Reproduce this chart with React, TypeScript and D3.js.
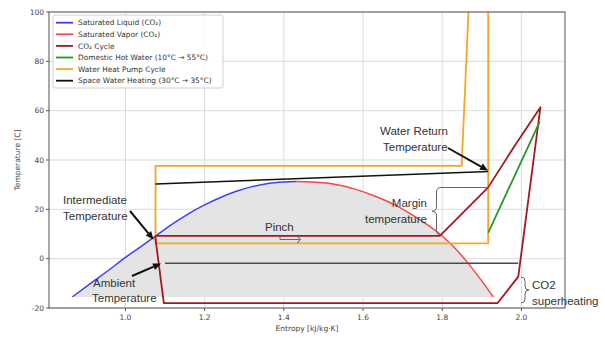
import React from 'react';
import * as d3 from 'd3';

// Saturation dome (CO2)
const satLiquidS = [0.866, 0.912, 0.955, 1.0, 1.04, 1.075, 1.12, 1.16, 1.2, 1.24, 1.28, 1.32, 1.36, 1.4, 1.432];
const satLiquidT = [-15.5, -10, -5, 0.5, 5, 9, 14.2, 18.3, 21.8, 24.8, 27.3, 29.2, 30.5, 31.1, 31.3];
const satVaporS = [1.432, 1.48, 1.525, 1.58, 1.634, 1.68, 1.72, 1.76, 1.8, 1.83, 1.862, 1.895, 1.929];
const satVaporT = [31.3, 31.0, 30.3, 28.2, 25.1, 21.8, 18.2, 14.0, 9.2, 4.6, -1.2, -8.0, -15.5];

// CO2 cycle
const co2S = [1.075, 1.097, 1.94, 1.992, 2.048, 1.981, 1.916, 1.855, 1.794, 1.075];
const co2T = [9.2, -18, -18, -7.3, 61.4, 45.3, 28.9, 19.1, 9.2, 9.2];

// Domestic hot water 10 -> 55
const dhwS = [1.916, 2.046];
const dhwT = [10.5, 55.5];

// Water heat pump cycle
const whpS = [1.869, 1.849, 1.076, 1.076, 1.916, 1.916];
const whpT = [110, 37.6, 37.6, 6.2, 6.2, 110];

// Space water heating 30 -> 35
const swhS = [1.076, 1.916];
const swhT = [30.3, 35.3];

// Ambient temperature line
const ambS = [1.1, 1.992];
const ambT = [-1.9, -1.9];

const xTicks = [1.0, 1.2, 1.4, 1.6, 1.8, 2.0];
const yTicks = [-20, 0, 20, 40, 60, 80, 100];

const legendItems = [
  { label: 'Saturated Liquid (CO₂)', color: '#3f3ff2' },
  { label: 'Saturated Vapor (CO₂)', color: '#f24848' },
  { label: 'CO₂ Cycle', color: '#a01a22' },
  { label: 'Domestic Hot Water (10°C → 55°C)', color: '#2a962a' },
  { label: 'Water Heat Pump Cycle', color: '#f7a623' },
  { label: 'Space Water Heating (30°C → 35°C)', color: '#111' },
];

const W = 605;
const H = 343;
const plot = { left: 49, right: 565, top: 12, bottom: 308 };

const zip = (s: number[], t: number[]) => s.map((v, i) => [v, t[i]] as [number, number]);

// curly brace, dir = -1 => "{" (tip to the left), 1 => "}"
function brace(x0: number, y1: number, y2: number, w: number, dir: number) {
  const mid = (y1 + y2) / 2;
  const r = Math.min(w / 2, (y2 - y1) / 4);
  const xm = x0 + (dir * w) / 2;
  const xt = x0 + dir * w;
  return `M${x0},${y1} Q${xm},${y1} ${xm},${y1 + r} L${xm},${mid - r} Q${xm},${mid} ${xt},${mid} Q${xm},${mid} ${xm},${mid + r} L${xm},${y2 - r} Q${xm},${y2} ${x0},${y2}`;
}

function Arrow({ x1, y1, x2, y2 }: { x1: number; y1: number; x2: number; y2: number }) {
  const a = Math.atan2(y2 - y1, x2 - x1);
  const len = 8;
  const hw = 3.5;
  const bx = x2 - len * Math.cos(a);
  const by = y2 - len * Math.sin(a);
  const px = -Math.sin(a) * hw;
  const py = Math.cos(a) * hw;
  return (
    <g>
      <line x1={x1} y1={y1} x2={bx} y2={by} stroke="#111" strokeWidth={2} />
      <polygon points={`${x2},${y2} ${bx + px},${by + py} ${bx - px},${by - py}`} fill="#111" />
    </g>
  );
}

export default function App() {
  const x = d3.scaleLinear().domain([0.807, 2.11]).range([plot.left, plot.right]);
  const y = d3.scaleLinear().domain([-20, 100]).range([plot.bottom, plot.top]);
  const line = d3.line<[number, number]>().x(d => x(d[0])).y(d => y(d[1]));
  const smooth = d3.line<[number, number]>().x(d => x(d[0])).y(d => y(d[1])).curve(d3.curveMonotoneX);

  const liq = zip(satLiquidS, satLiquidT);
  const vap = zip(satVaporS, satVaporT);
  const dome = [...liq, ...vap.slice(1)];

  const annFont = "'Liberation Sans', Arial, sans-serif";
  const tickFont = "'DejaVu Sans', sans-serif";

  return (
    <div style={{ position: 'fixed', left: 0, top: 0 }}>
      <svg width={W} height={H} style={{ display: 'block', background: '#fff' }}>
        <defs>
          <clipPath id="plotClip">
            <rect x={plot.left} y={plot.top} width={plot.right - plot.left} height={plot.bottom - plot.top} />
          </clipPath>
        </defs>

        {/* grid */}
        {xTicks.map(t => (
          <line key={'gx' + t} x1={x(t)} x2={x(t)} y1={plot.top} y2={plot.bottom} stroke="#dcdcdc" strokeWidth={1} />
        ))}
        {yTicks.map(t => (
          <line key={'gy' + t} x1={plot.left} x2={plot.right} y1={y(t)} y2={y(t)} stroke="#dcdcdc" strokeWidth={1} />
        ))}

        <g clipPath="url(#plotClip)">
          {/* dome fill */}
          <path d={smooth(dome) + 'Z'} fill="#e4e4e4" />

          <path d={smooth(liq) || ''} fill="none" stroke="#3f3ff2" strokeWidth={1.5} />
          <path d={smooth(vap) || ''} fill="none" stroke="#f24848" strokeWidth={1.5} />

          <path d={line(zip(ambS, ambT)) || ''} fill="none" stroke="#4a4a4a" strokeWidth={1.5} />
          <path d={line(zip(whpS, whpT)) || ''} fill="none" stroke="#f7a623" strokeWidth={1.8} />
          <path d={line(zip(swhS, swhT)) || ''} fill="none" stroke="#111" strokeWidth={1.5} />
          <path d={line(zip(co2S, co2T)) || ''} fill="none" stroke="#a01a22" strokeWidth={1.8} strokeLinejoin="round" />
          <path d={line(zip(dhwS, dhwT)) || ''} fill="none" stroke="#2a962a" strokeWidth={1.8} />
        </g>

        {/* frame */}
        <rect x={plot.left} y={plot.top} width={plot.right - plot.left} height={plot.bottom - plot.top} fill="none" stroke="#555" strokeWidth={1} />

        {/* ticks */}
        {xTicks.map(t => (
          <g key={'tx' + t}>
            <line x1={x(t)} x2={x(t)} y1={plot.bottom} y2={plot.bottom + 3} stroke="#555" />
            <text x={x(t)} y={plot.bottom + 12} textAnchor="middle" fontSize={7.5} fontFamily={tickFont} fill="#444">
              {t.toFixed(1)}
            </text>
          </g>
        ))}
        {yTicks.map(t => (
          <g key={'ty' + t}>
            <line x1={plot.left - 3} x2={plot.left} y1={y(t)} y2={y(t)} stroke="#555" />
            <text x={plot.left - 5} y={y(t) + 2.7} textAnchor="end" fontSize={7.5} fontFamily={tickFont} fill="#444">
              {t}
            </text>
          </g>
        ))}
        <text x={(plot.left + plot.right) / 2} y={331} textAnchor="middle" fontSize={7.5} fontFamily={tickFont} fill="#444">
          Entropy [kJ/kg·K]
        </text>
        <text transform={`translate(20,${(plot.top + plot.bottom) / 2}) rotate(-90)`} textAnchor="middle" fontSize={7.5} fontFamily={tickFont} fill="#444">
          Temperature [C]
        </text>

        {/* legend */}
        <rect x={53} y={15} width={170} height={73} rx={2} fill="#fff" fillOpacity={0.85} stroke="#d0d0d0" />
        {legendItems.map((d, i) => (
          <g key={d.label} transform={`translate(56,${22.7 + i * 11.6})`}>
            <line x1={0} x2={17} y1={0} y2={0} stroke={d.color} strokeWidth={1.8} />
            <text x={22} y={2.7} fontSize={7.4} fontFamily={tickFont} fill="#333">
              {d.label}
            </text>
          </g>
        ))}

        {/* annotations */}
        <g fontFamily={annFont} fontSize={11.5} fill="#333">
          <text x={63} y={204}>Intermediate</text>
          <text x={63} y={220}>Temperature</text>
          <text x={93} y={287}>Ambient</text>
          <text x={92} y={302}>Temperature</text>
          <text x={265} y={231}>Pinch</text>
          <text x={427} y={207} textAnchor="end">Margin</text>
          <text x={427} y={223} textAnchor="end">temperature</text>
          <text x={380} y={135}>Water Return</text>
          <text x={383} y={151}>Temperature</text>
          <text x={532} y={289}>CO2</text>
          <text x={532} y={305}>superheating</text>
        </g>

        <Arrow x1={130} y1={211} x2={153.5} y2={239.5} />
        <Arrow x1={132} y1={276} x2={161} y2={263.5} />
        <Arrow x1={448} y1={148} x2={488} y2={170.5} />

        {/* braces */}
        <g fill="none" stroke="#666" strokeWidth={1}>
          <path d={brace(441, 187.5, 235, 9, -1)} />
          <line x1={441} x2={488} y1={187.5} y2={187.5} />
          <path d={brace(521, 277, 303, 8, 1)} />
          <path d={brace(297, 236.5, 242.5, 4, 1)} />
          <path d={`M280,236 L280,239.5 L299,239.5`} />
        </g>
      </svg>
    </div>
  );
}
